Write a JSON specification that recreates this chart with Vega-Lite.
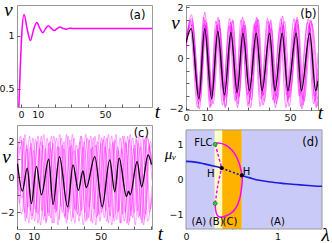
{
"$schema": "https://vega.github.io/schema/vega-lite/v6.json",
"padding": {"left": -2, "top": -1, "right": 0, "bottom": 0},
"columns": 2,
"align": "all",
"bounds": "flush",
"spacing": {"row": 15, "column": 33},
"config": {
 "view": {"stroke": "#999", "strokeWidth": 1},
 "axis": {"domain": false, "grid": false, "tickSize": -3, "tickColor": "#333", "tickWidth": 0.8, "labelFont": "DejaVu Sans", "labelFontSize": 9.5, "labelColor": "#111", "labelPadding": 6, "labelFlush": false, "labelOverlap": false, "titleFont": "Liberation Serif", "titleFontStyle": "italic", "titleFontWeight": "normal", "titleFontSize": 19, "titleColor": "#000", "titleAngle": 0, "titleAlign": "center", "titleBaseline": "alphabetic"},
 "text": {"font": "DejaVu Sans", "fontSize": 11.5, "align": "center", "baseline": "alphabetic", "color": "#000"}
},
"datasets": {
 "a": [{"t":-1.3,"v":0.33},{"t":-0.4,"v":0.72},{"t":0.5,"v":1.03},{"t":1.8,"v":1.2},{"t":3.7,"v":1.06},{"t":5.6,"v":0.955},{"t":7.5,"v":1.06},{"t":9.4,"v":1.125},{"t":11.2,"v":1.07},{"t":13,"v":1.03},{"t":14.7,"v":1.07},{"t":16.3,"v":1.094},{"t":18,"v":1.07},{"t":19.8,"v":1.05},{"t":21.5,"v":1.068},{"t":23.2,"v":1.082},{"t":25,"v":1.07},{"t":27,"v":1.062},{"t":29,"v":1.072},{"t":31,"v":1.07},{"t":78,"v":1.07}],
 "bk": [{"t":0,"v":0.6},{"t":2.5,"v":1.15},{"t":6.2,"v":-1.6},{"t":9.0,"v":1.15},{"t":12.3,"v":-1.6},{"t":15.3,"v":1.05},{"t":18.5,"v":-1.45},{"t":21.6,"v":1.0},{"t":24.6,"v":-1.35},{"t":27.4,"v":0.98},{"t":30.5,"v":-1.28},{"t":33.8,"v":0.98},{"t":36.6,"v":-1.28},{"t":40.2,"v":0.98},{"t":42.8,"v":-1.28},{"t":46.3,"v":0.98},{"t":49,"v":-1.28},{"t":53,"v":0.98},{"t":55.5,"v":-1.28},{"t":59.5,"v":0.98},{"t":62.4,"v":-1.28},{"t":63.5,"v":-0.9}],
 "b": [
  {"s":1,"t":0,"v":0.4},{"s":1,"t":2.3,"v":1.35},{"s":1,"t":6.0,"v":-1.8},{"s":1,"t":9.2,"v":1.5},{"s":1,"t":12.0,"v":-1.9},{"s":1,"t":15.0,"v":1.3},{"s":1,"t":18.2,"v":-1.7},{"s":1,"t":21.3,"v":1.4},{"s":1,"t":24.2,"v":-1.6},{"s":1,"t":27.6,"v":1.3},{"s":1,"t":30.2,"v":-1.8},{"s":1,"t":33.5,"v":1.45},{"s":1,"t":36.9,"v":-1.5},{"s":1,"t":40.0,"v":1.3},{"s":1,"t":42.5,"v":-1.75},{"s":1,"t":46.0,"v":1.4},{"s":1,"t":49.3,"v":-1.6},{"s":1,"t":52.7,"v":1.35},{"s":1,"t":55.2,"v":-1.9},{"s":1,"t":59.2,"v":1.3},{"s":1,"t":62.0,"v":-1.7},{"s":1,"t":63.5,"v":-0.8},
  {"s":2,"t":0,"v":0.8},{"s":2,"t":2.9,"v":1.55},{"s":2,"t":6.6,"v":-1.5},{"s":2,"t":9.6,"v":1.25},{"s":2,"t":12.8,"v":-1.6},{"s":2,"t":15.9,"v":1.5},{"s":2,"t":19.0,"v":-1.9},{"s":2,"t":22.1,"v":1.2},{"s":2,"t":25.1,"v":-1.8},{"s":2,"t":28.0,"v":1.45},{"s":2,"t":31.0,"v":-1.4},{"s":2,"t":34.4,"v":1.3},{"s":2,"t":37.1,"v":-1.85},{"s":2,"t":40.8,"v":1.5},{"s":2,"t":43.3,"v":-1.5},{"s":2,"t":46.9,"v":1.25},{"s":2,"t":49.6,"v":-1.9},{"s":2,"t":53.6,"v":1.5},{"s":2,"t":56.0,"v":-1.6},{"s":2,"t":60.1,"v":1.45},{"s":2,"t":63.0,"v":-1.9},{"s":2,"t":63.5,"v":-1.7},
  {"s":3,"t":0,"v":0.6},{"s":3,"t":1.9,"v":1.2},{"s":3,"t":5.6,"v":-1.95},{"s":3,"t":8.5,"v":1.6},{"s":3,"t":11.7,"v":-1.7},{"s":3,"t":14.7,"v":1.25},{"s":3,"t":17.9,"v":-1.3},{"s":3,"t":21.0,"v":1.55},{"s":3,"t":24.0,"v":-1.4},{"s":3,"t":26.8,"v":1.15},{"s":3,"t":29.9,"v":-1.9},{"s":3,"t":33.2,"v":1.25},{"s":3,"t":36.0,"v":-1.6},{"s":3,"t":39.6,"v":1.45},{"s":3,"t":42.2,"v":-1.2},{"s":3,"t":45.7,"v":1.55},{"s":3,"t":48.4,"v":-1.45},{"s":3,"t":52.4,"v":1.2},{"s":3,"t":54.9,"v":-1.4},{"s":3,"t":58.9,"v":1.55},{"s":3,"t":61.8,"v":-1.5},{"s":3,"t":63.5,"v":0.2},
  {"s":4,"t":0,"v":0.3},{"s":4,"t":2.6,"v":1.7},{"s":4,"t":6.3,"v":-1.6},{"s":4,"t":9.0,"v":1.8},{"s":4,"t":12.4,"v":-1.4},{"s":4,"t":15.5,"v":1.6},{"s":4,"t":18.7,"v":-1.6},{"s":4,"t":21.8,"v":1.3},{"s":4,"t":24.8,"v":-1.95},{"s":4,"t":27.2,"v":1.6},{"s":4,"t":30.7,"v":-1.55},{"s":4,"t":34.0,"v":1.6},{"s":4,"t":36.4,"v":-1.4},{"s":4,"t":40.4,"v":1.2},{"s":4,"t":43.0,"v":-1.95},{"s":4,"t":46.5,"v":1.65},{"s":4,"t":48.8,"v":-1.7},{"s":4,"t":53.2,"v":1.5},{"s":4,"t":55.7,"v":-2.0},{"s":4,"t":59.7,"v":1.2},{"s":4,"t":62.6,"v":-1.95},{"s":4,"t":63.5,"v":-1.5},
  {"s":5,"t":0,"v":0.9},{"s":5,"t":3.1,"v":1.3},{"s":5,"t":6.8,"v":-1.7},{"s":5,"t":9.9,"v":1.4},{"s":5,"t":13.0,"v":-1.8},{"s":5,"t":16.2,"v":1.2},{"s":5,"t":19.3,"v":-1.5},{"s":5,"t":22.5,"v":1.5},{"s":5,"t":25.5,"v":-1.5},{"s":5,"t":28.4,"v":1.3},{"s":5,"t":31.4,"v":-1.65},{"s":5,"t":34.8,"v":1.5},{"s":5,"t":37.6,"v":-1.7},{"s":5,"t":41.1,"v":1.15},{"s":5,"t":44.0,"v":-1.6},{"s":5,"t":47.4,"v":1.45},{"s":5,"t":50.1,"v":-1.3},{"s":5,"t":54.0,"v":1.3},{"s":5,"t":56.8,"v":-1.7},{"s":5,"t":60.5,"v":1.35},{"s":5,"t":63.5,"v":-1.3},
  {"s":6,"t":0,"v":0.5},{"s":6,"t":2.0,"v":1.5},{"s":6,"t":5.8,"v":-1.4},{"s":6,"t":8.7,"v":1.35},{"s":6,"t":11.5,"v":-1.95},{"s":6,"t":14.4,"v":1.45},{"s":6,"t":17.6,"v":-1.85},{"s":6,"t":20.7,"v":1.25},{"s":6,"t":23.7,"v":-1.7},{"s":6,"t":26.5,"v":1.5},{"s":6,"t":29.6,"v":-1.45},{"s":6,"t":32.9,"v":1.35},{"s":6,"t":35.7,"v":-1.9},{"s":6,"t":39.2,"v":1.55},{"s":6,"t":41.8,"v":-1.65},{"s":6,"t":45.3,"v":1.2},{"s":6,"t":48.1,"v":-1.95},{"s":6,"t":52.0,"v":1.55},{"s":6,"t":54.5,"v":-1.5},{"s":6,"t":58.5,"v":1.4},{"s":6,"t":61.4,"v":-1.8},{"s":6,"t":63.5,"v":-0.4},
  {"s":7,"t":0,"v":0.7},{"s":7,"t":2.7,"v":1.45},{"s":7,"t":6.4,"v":-2.0},{"s":7,"t":9.4,"v":1.3},{"s":7,"t":12.6,"v":-1.5},{"s":7,"t":15.7,"v":1.35},{"s":7,"t":18.9,"v":-1.95},{"s":7,"t":22.3,"v":1.45},{"s":7,"t":25.3,"v":-1.55},{"s":7,"t":28.0,"v":1.2},{"s":7,"t":31.1,"v":-1.95},{"s":7,"t":34.3,"v":1.55},{"s":7,"t":37.3,"v":-1.45},{"s":7,"t":40.6,"v":1.4},{"s":7,"t":43.5,"v":-1.8},{"s":7,"t":46.7,"v":1.3},{"s":7,"t":49.8,"v":-1.55},{"s":7,"t":53.5,"v":1.6},{"s":7,"t":56.3,"v":-1.85},{"s":7,"t":60.0,"v":1.5},{"s":7,"t":63.2,"v":-1.6}
 ],
 "ck": [{"t":0.3,"v":0.75},{"t":3.2,"v":-0.8},{"t":6.1,"v":0.5},{"t":8.6,"v":-1.5},{"t":11.6,"v":0.6},{"t":14.6,"v":-1.0},{"t":18.9,"v":1.0},{"t":21.5,"v":-1.55},{"t":25.3,"v":1.15},{"t":30.2,"v":-1.68},{"t":33.4,"v":0.68},{"t":36.6,"v":-0.75},{"t":39.3,"v":0.35},{"t":41.3,"v":-0.6},{"t":46.4,"v":1.15},{"t":50.8,"v":-1.68},{"t":55.3,"v":0.96},{"t":58.3,"v":-0.83},{"t":60.9,"v":1.06},{"t":65.3,"v":-1.1},{"t":66.5,"v":-0.8},{"t":67.5,"v":-1.0},{"t":71.6,"v":0.86},{"t":74.3,"v":-0.55},{"t":78.2,"v":1.24},{"t":80.2,"v":0.7}],
 "c": [
  {"s":1,"t":0,"v":1.2},{"s":1,"t":2.5,"v":2.1},{"s":1,"t":5.5,"v":-2.3},{"s":1,"t":8.5,"v":1.9},{"s":1,"t":11,"v":-1.8},{"s":1,"t":14.5,"v":2.3},{"s":1,"t":17.5,"v":-2.5},{"s":1,"t":20,"v":1.6},{"s":1,"t":23,"v":-2.0},{"s":1,"t":26.5,"v":2.2},{"s":1,"t":29.5,"v":-2.6},{"s":1,"t":32.5,"v":1.8},{"s":1,"t":35,"v":-1.9},{"s":1,"t":38.5,"v":2.3},{"s":1,"t":42,"v":-2.4},{"s":1,"t":45,"v":1.7},{"s":1,"t":48,"v":-2.2},{"s":1,"t":51.5,"v":2.1},{"s":1,"t":54.5,"v":-2.6},{"s":1,"t":57.5,"v":2.0},{"s":1,"t":60.5,"v":-1.9},{"s":1,"t":64,"v":2.3},{"s":1,"t":67,"v":-2.5},{"s":1,"t":70,"v":1.8},{"s":1,"t":73,"v":-2.2},{"s":1,"t":76.5,"v":2.2},{"s":1,"t":79.5,"v":-1.8},{"s":1,"t":80.5,"v":-1.2},
  {"s":2,"t":0,"v":0.6},{"s":2,"t":1.5,"v":-1.5},{"s":2,"t":4,"v":2.2},{"s":2,"t":7,"v":-2.6},{"s":2,"t":10,"v":1.5},{"s":2,"t":12.5,"v":-2.1},{"s":2,"t":16,"v":2.4},{"s":2,"t":19,"v":-2.2},{"s":2,"t":21.5,"v":1.9},{"s":2,"t":24.5,"v":-2.7},{"s":2,"t":28,"v":1.6},{"s":2,"t":30.5,"v":-2.0},{"s":2,"t":34,"v":2.2},{"s":2,"t":37,"v":-2.5},{"s":2,"t":40,"v":2.0},{"s":2,"t":43,"v":-1.7},{"s":2,"t":46.5,"v":2.3},{"s":2,"t":49.5,"v":-2.5},{"s":2,"t":52.5,"v":1.7},{"s":2,"t":55.5,"v":-2.2},{"s":2,"t":59,"v":2.4},{"s":2,"t":62,"v":-2.6},{"s":2,"t":65,"v":1.9},{"s":2,"t":68,"v":-1.9},{"s":2,"t":71.5,"v":2.1},{"s":2,"t":74.5,"v":-2.6},{"s":2,"t":77.5,"v":2.2},{"s":2,"t":80.5,"v":0.5},
  {"s":3,"t":0,"v":1.5},{"s":3,"t":3,"v":-1.2},{"s":3,"t":5.8,"v":1.8},{"s":3,"t":8.8,"v":-2.4},{"s":3,"t":12,"v":2.0},{"s":3,"t":15,"v":-1.9},{"s":3,"t":18,"v":2.2},{"s":3,"t":21,"v":-2.6},{"s":3,"t":24,"v":1.7},{"s":3,"t":27,"v":-2.0},{"s":3,"t":30.5,"v":2.3},{"s":3,"t":33.5,"v":-2.3},{"s":3,"t":36.5,"v":1.6},{"s":3,"t":39.5,"v":-2.7},{"s":3,"t":43,"v":2.1},{"s":3,"t":46,"v":-1.8},{"s":3,"t":49,"v":2.4},{"s":3,"t":52,"v":-2.3},{"s":3,"t":55,"v":1.6},{"s":3,"t":58,"v":-2.5},{"s":3,"t":61.5,"v":2.2},{"s":3,"t":64.5,"v":-2.0},{"s":3,"t":67.5,"v":2.4},{"s":3,"t":70.5,"v":-2.7},{"s":3,"t":73.5,"v":1.7},{"s":3,"t":76.5,"v":-2.1},{"s":3,"t":79.5,"v":2.0},{"s":3,"t":80.5,"v":1.6},
  {"s":4,"t":0,"v":0.9},{"s":4,"t":2,"v":1.7},{"s":4,"t":4.5,"v":-2.0},{"s":4,"t":7.5,"v":2.3},{"s":4,"t":10.5,"v":-2.5},{"s":4,"t":13.5,"v":1.6},{"s":4,"t":16.5,"v":-2.2},{"s":4,"t":19.5,"v":2.0},{"s":4,"t":22.5,"v":-1.8},{"s":4,"t":25.5,"v":2.4},{"s":4,"t":28.5,"v":-2.3},{"s":4,"t":31.5,"v":1.7},{"s":4,"t":34.5,"v":-2.6},{"s":4,"t":37.5,"v":2.0},{"s":4,"t":40.5,"v":-2.0},{"s":4,"t":44,"v":2.3},{"s":4,"t":47,"v":-2.7},{"s":4,"t":50,"v":1.9},{"s":4,"t":53,"v":-1.9},{"s":4,"t":56.5,"v":2.3},{"s":4,"t":59.5,"v":-2.4},{"s":4,"t":62.5,"v":1.6},{"s":4,"t":65.5,"v":-2.6},{"s":4,"t":69,"v":2.2},{"s":4,"t":72,"v":-1.9},{"s":4,"t":75,"v":2.3},{"s":4,"t":78,"v":-2.5},{"s":4,"t":80.5,"v":-0.5},
  {"s":5,"t":0,"v":0.4},{"s":5,"t":3.5,"v":2.0},{"s":5,"t":6.5,"v":-1.7},{"s":5,"t":9.5,"v":2.2},{"s":5,"t":12.5,"v":-2.6},{"s":5,"t":15.5,"v":1.8},{"s":5,"t":18.5,"v":-2.0},{"s":5,"t":22,"v":2.3},{"s":5,"t":25,"v":-2.4},{"s":5,"t":28,"v":2.0},{"s":5,"t":31,"v":-1.8},{"s":5,"t":34,"v":1.5},{"s":5,"t":37.5,"v":-2.2},{"s":5,"t":41,"v":2.4},{"s":5,"t":44,"v":-2.5},{"s":5,"t":47,"v":1.8},{"s":5,"t":50.5,"v":-2.0},{"s":5,"t":53.5,"v":2.2},{"s":5,"t":56.5,"v":-2.7},{"s":5,"t":60,"v":1.7},{"s":5,"t":63,"v":-2.1},{"s":5,"t":66,"v":2.3},{"s":5,"t":69,"v":-2.3},{"s":5,"t":72.5,"v":1.9},{"s":5,"t":75.5,"v":-2.7},{"s":5,"t":78.5,"v":1.7},{"s":5,"t":80.5,"v":0.8},
  {"s":6,"t":0,"v":1.0},{"s":6,"t":1.8,"v":-0.8},{"s":6,"t":4.8,"v":2.4},{"s":6,"t":8,"v":-1.9},{"s":6,"t":11,"v":2.1},{"s":6,"t":14,"v":-2.7},{"s":6,"t":17,"v":1.6},{"s":6,"t":20,"v":-2.3},{"s":6,"t":23.5,"v":2.2},{"s":6,"t":26.5,"v":-1.7},{"s":6,"t":29.5,"v":2.4},{"s":6,"t":32.5,"v":-2.5},{"s":6,"t":35.5,"v":1.8},{"s":6,"t":38.5,"v":-1.9},{"s":6,"t":42,"v":2.2},{"s":6,"t":45,"v":-2.6},{"s":6,"t":48,"v":2.0},{"s":6,"t":51,"v":-1.8},{"s":6,"t":54.5,"v":2.4},{"s":6,"t":57.5,"v":-2.3},{"s":6,"t":60.5,"v":1.5},{"s":6,"t":64,"v":-2.5},{"s":6,"t":67,"v":2.1},{"s":6,"t":70,"v":-2.0},{"s":6,"t":73,"v":2.4},{"s":6,"t":76,"v":-2.4},{"s":6,"t":79,"v":1.8},{"s":6,"t":80.5,"v":0.9},
  {"s":7,"t":0,"v":0.7},{"s":7,"t":2.8,"v":-2.1},{"s":7,"t":6,"v":1.6},{"s":7,"t":9,"v":-2.2},{"s":7,"t":12.5,"v":2.3},{"s":7,"t":15.8,"v":-2.4},{"s":7,"t":19,"v":1.9},{"s":7,"t":22,"v":-2.6},{"s":7,"t":25,"v":1.7},{"s":7,"t":28.5,"v":-2.2},{"s":7,"t":31.5,"v":2.1},{"s":7,"t":34.5,"v":-1.8},{"s":7,"t":38,"v":2.3},{"s":7,"t":41,"v":-2.5},{"s":7,"t":44,"v":1.6},{"s":7,"t":47.5,"v":-2.3},{"s":7,"t":50.5,"v":2.2},{"s":7,"t":53.5,"v":-2.5},{"s":7,"t":57,"v":1.9},{"s":7,"t":60,"v":-2.0},{"s":7,"t":63,"v":2.3},{"s":7,"t":66.5,"v":-2.7},{"s":7,"t":69.5,"v":1.6},{"s":7,"t":72.5,"v":-2.3},{"s":7,"t":76,"v":2.1},{"s":7,"t":79,"v":-2.0},{"s":7,"t":80.5,"v":-1.0},
  {"s":8,"t":0,"v":1.3},{"s":8,"t":2.2,"v":2.3},{"s":8,"t":5,"v":-2.5},{"s":8,"t":8,"v":1.7},{"s":8,"t":11.3,"v":-2.0},{"s":8,"t":14.3,"v":2.0},{"s":8,"t":17.3,"v":-2.6},{"s":8,"t":20.5,"v":2.3},{"s":8,"t":23.5,"v":-1.9},{"s":8,"t":27,"v":1.8},{"s":8,"t":30,"v":-2.4},{"s":8,"t":33,"v":2.4},{"s":8,"t":36,"v":-2.1},{"s":8,"t":39.5,"v":1.7},{"s":8,"t":42.5,"v":-2.3},{"s":8,"t":45.5,"v":2.2},{"s":8,"t":49,"v":-2.1},{"s":8,"t":52,"v":2.3},{"s":8,"t":55,"v":-1.7},{"s":8,"t":58.5,"v":2.1},{"s":8,"t":61.5,"v":-2.6},{"s":8,"t":64.5,"v":2.0},{"s":8,"t":68,"v":-2.2},{"s":8,"t":71,"v":2.2},{"s":8,"t":74,"v":-2.4},{"s":8,"t":77.5,"v":2.3},{"s":8,"t":80.5,"v":-0.2}
 ]
},
"concat": [
 {
  "width": 135, "height": 102,
  "encoding": {
   "x": {"field": "t", "type": "quantitative", "scale": {"domain": [-2.4, 78], "nice": false, "zero": false}, "axis": {"values": [0,10,20,30,40,50,60,70], "labelExpr": "datum.value==0||datum.value==10||datum.value==50 ? datum.label : ''", "title": "t", "titleX": 140, "titleY": 10, "labelPadding": 5}},
   "y": {"field": "v", "type": "quantitative", "scale": {"domain": [0.33, 1.29], "nice": false, "zero": false}, "axis": {"values": [0.5, 1], "format": "~g", "title": "v", "titleX": -9, "titleY": 10}}
  },
  "layer": [
   {"data": {"name": "a"}, "mark": {"type": "line", "interpolate": "monotone", "color": "#ff00ff", "strokeWidth": 1.5, "clip": true}, "encoding": {}},
   {"data": {"values": [{"t": 69.3, "v": 1.16, "lab": "(a)"}]}, "mark": {"type": "text"}, "encoding": {"text": {"field": "lab"}}}
  ]
 },
 {
  "width": 132, "height": 105,
  "encoding": {
   "x": {"field": "t", "type": "quantitative", "scale": {"domain": [0, 63.5], "nice": false, "zero": false}, "axis": {"values": [0,10,20,30,40,50,60], "labelExpr": "datum.value==0||datum.value==10||datum.value==50 ? datum.label : ''", "title": "t", "titleX": 134, "titleY": 8, "labelPadding": 5}},
   "y": {"field": "v", "type": "quantitative", "scale": {"domain": [-2.04, 2.08], "nice": false, "zero": false}, "axis": {"values": [-2,-1.5,-1,-0.5,0,0.5,1,1.5,2], "format": "~g", "labelExpr": "datum.value==-2||datum.value==0||datum.value==2 ? datum.label : ''", "title": "v", "titleX": -11, "titleY": 23}}
  },
  "layer": [
   {"data": {"name": "b"}, "mark": {"type": "line", "interpolate": "monotone", "color": "#ff00ff", "strokeWidth": 0.8, "opacity": 0.6, "clip": true}, "encoding": {"detail": {"field": "s", "type": "nominal"}}},
   {"data": {"name": "bk"}, "mark": {"type": "line", "interpolate": "monotone", "color": "#000000", "strokeWidth": 1.3, "clip": true}, "encoding": {}},
   {"data": {"values": [{"t": 58.9, "v": 1.57, "lab": "(b)"}]}, "mark": {"type": "text"}, "encoding": {"text": {"field": "lab"}}}
  ]
 },
 {
  "width": 135, "height": 104,
  "encoding": {
   "x": {"field": "t", "type": "quantitative", "scale": {"domain": [0, 80.5], "nice": false, "zero": false}, "axis": {"values": [0,10,20,30,40,50,60,70,80], "labelExpr": "datum.value==0||datum.value==10||datum.value==50 ? datum.label : ''", "title": "t", "titleX": 143, "titleY": 10, "labelPadding": 5}},
   "y": {"field": "v", "type": "quantitative", "scale": {"domain": [-2.93, 2.93], "nice": false, "zero": false}, "axis": {"values": [-2,-1,0,1,2], "format": "~g", "labelExpr": "datum.value==-2||datum.value==0||datum.value==2 ? datum.label : ''", "title": "v", "titleX": -11, "titleY": 37}}
  },
  "layer": [
   {"data": {"name": "c"}, "mark": {"type": "line", "interpolate": "monotone", "color": "#ff00ff", "strokeWidth": 0.7, "opacity": 0.5, "clip": true}, "encoding": {"detail": {"field": "s", "type": "nominal"}}},
   {"data": {"name": "ck"}, "mark": {"type": "line", "interpolate": "monotone", "color": "#000000", "strokeWidth": 1.3, "clip": true}, "encoding": {}},
   {"data": {"values": [{"t": 74.1, "v": 2.26, "lab": "(c)"}]}, "mark": {"type": "text"}, "encoding": {"text": {"field": "lab"}}}
  ]
 },
 {
  "width": 136, "height": 104,
  "view": {"stroke": null},
  "encoding": {
   "x": {"field": "x", "type": "quantitative", "scale": {"domain": [0, 1.486], "nice": false, "zero": false}, "axis": {"values": [0, 0.5, 1], "format": "~g", "labelExpr": "datum.value==0||datum.value==1 ? datum.label : ''", "title": "λ", "titleX": 139, "titleY": 11, "labelPadding": 5}},
   "y": {"field": "y", "type": "quantitative", "scale": {"domain": [-1.4, 1.57], "nice": false, "zero": false}, "axis": {"values": [-1, -0.5, 0, 0.5, 1], "format": "~g", "labelExpr": "datum.value==-1||datum.value==0||datum.value==1 ? datum.label : ''", "title": "μᵥ", "titleFontSize": 15, "titleX": -16, "titleY": 33}}
  },
  "layer": [
   {"data": {"values": [{"x": 0, "x2": 0.315, "y": -1.4, "y2": 1.43, "r": "A"}, {"x": 0.315, "x2": 0.396, "y": -1.4, "y2": 1.43, "r": "B"}, {"x": 0.396, "x2": 0.61, "y": -1.4, "y2": 1.43, "r": "C"}, {"x": 0.61, "x2": 1.486, "y": -1.4, "y2": 1.43, "r": "A"}]},
    "mark": {"type": "rect"},
    "encoding": {"x2": {"field": "x2"}, "y2": {"field": "y2"}, "color": {"field": "r", "type": "nominal", "scale": {"domain": ["A", "B", "C"], "range": ["#cacaf9", "#ffffc4", "#ffb300"]}, "legend": null}}},
   {"data": {"values": [{"x": 0, "x2": 1.486, "y": -1.4, "y2": 1.43}]},
    "mark": {"type": "rect", "fillOpacity": 0, "stroke": "#999", "strokeWidth": 1},
    "encoding": {"x2": {"field": "x2"}, "y2": {"field": "y2"}}},
   {"data": {"values": [{"s": 1, "x": 0, "y": 0.53}, {"s": 1, "x": 0.1, "y": 0.51}, {"s": 1, "x": 0.2, "y": 0.46}, {"s": 1, "x": 0.3, "y": 0.4}, {"s": 1, "x": 0.39, "y": 0.34}, {"s": 2, "x": 0.61, "y": 0.13}, {"s": 2, "x": 0.7, "y": 0.06}, {"s": 2, "x": 0.8, "y": -0.01}, {"s": 2, "x": 0.9, "y": -0.05}, {"s": 2, "x": 1.0, "y": -0.08}, {"s": 2, "x": 1.1, "y": -0.11}, {"s": 2, "x": 1.2, "y": -0.13}, {"s": 2, "x": 1.3, "y": -0.15}, {"s": 2, "x": 1.4, "y": -0.17}, {"s": 2, "x": 1.486, "y": -0.18}]},
    "mark": {"type": "line", "interpolate": "monotone", "color": "#1c1cdc", "strokeWidth": 1.6},
    "encoding": {"detail": {"field": "s", "type": "nominal"}}},
   {"data": {"values": [{"x": 0.39, "y": 0.34}, {"x": 0.5, "y": 0.23}, {"x": 0.61, "y": 0.13}]},
    "mark": {"type": "line", "interpolate": "monotone", "color": "#14148c", "strokeWidth": 1.5, "strokeDash": [2, 2]},
    "encoding": {}},
   {"data": {"values": [{"o": 1, "x": 0.319, "y": 1.02}, {"o": 2, "x": 0.335, "y": 1.05}, {"o": 3, "x": 0.38, "y": 1.045}, {"o": 4, "x": 0.43, "y": 1.0}, {"o": 5, "x": 0.47, "y": 0.93}, {"o": 6, "x": 0.53, "y": 0.76}, {"o": 7, "x": 0.575, "y": 0.52}, {"o": 8, "x": 0.6, "y": 0.3}, {"o": 9, "x": 0.612, "y": 0.13}, {"o": 10, "x": 0.614, "y": -0.05}, {"o": 11, "x": 0.605, "y": -0.27}, {"o": 12, "x": 0.585, "y": -0.55}, {"o": 13, "x": 0.545, "y": -0.8}, {"o": 14, "x": 0.48, "y": -0.97}, {"o": 15, "x": 0.41, "y": -1.05}, {"o": 16, "x": 0.37, "y": -1.06}, {"o": 17, "x": 0.34, "y": -1.0}, {"o": 18, "x": 0.325, "y": -0.88}, {"o": 19, "x": 0.319, "y": -0.67}]},
    "mark": {"type": "line", "interpolate": "catmull-rom", "color": "#ff00ff", "strokeWidth": 1.5},
    "encoding": {"order": {"field": "o", "type": "quantitative"}}},
   {"data": {"values": [{"s": 1, "x": 0.39, "y": 0.34}, {"s": 1, "x": 0.355, "y": 0.68}, {"s": 1, "x": 0.319, "y": 1.02}, {"s": 2, "x": 0.39, "y": 0.34}, {"s": 2, "x": 0.345, "y": -0.2}, {"s": 2, "x": 0.319, "y": -0.67}]},
    "mark": {"type": "line", "interpolate": "monotone", "color": "#ff00ff", "strokeWidth": 1.5, "strokeDash": [3, 2]},
    "encoding": {"detail": {"field": "s", "type": "nominal"}}},
   {"data": {"values": [{"x": 0.39, "y": 0.34}, {"x": 0.61, "y": 0.13}]},
    "mark": {"type": "point", "filled": true, "color": "#000000", "size": 18, "opacity": 1}},
   {"data": {"values": [{"x": 0.319, "y": 1.02}, {"x": 0.319, "y": -0.67}]},
    "mark": {"type": "point", "filled": true, "fill": "#33cc33", "stroke": "#225522", "strokeWidth": 0.6, "size": 16, "opacity": 1}},
   {"data": {"values": [{"x": 0.19, "y": 0.97, "lab": "FLC"}, {"x": 0.27, "y": 0.09, "lab": "H"}, {"x": 0.66, "y": 0.14, "lab": "H"}, {"x": 0.14, "y": -1.29, "lab": "(A)"}, {"x": 0.33, "y": -1.29, "lab": "(B)"}, {"x": 0.48, "y": -1.29, "lab": "(C)"}, {"x": 1.0, "y": -1.29, "lab": "(A)"}]},
    "mark": {"type": "text", "fontSize": 10}, "encoding": {"text": {"field": "lab"}}},
   {"data": {"values": [{"x": 1.36, "y": 0.97, "lab": "(d)"}]},
    "mark": {"type": "text"}, "encoding": {"text": {"field": "lab"}}}
  ]
 }
]
}
